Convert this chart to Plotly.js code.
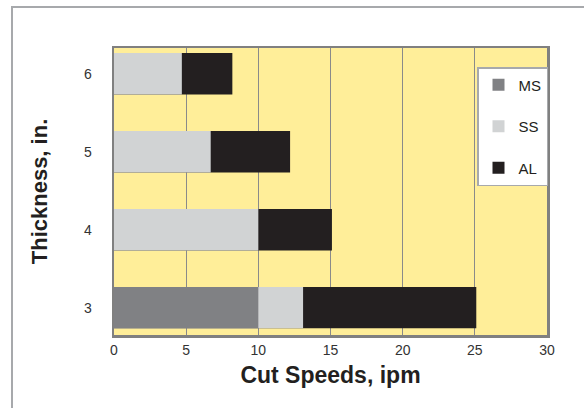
<!DOCTYPE html>
<html>
<head>
<meta charset="utf-8">
<script src="https://cdn.plot.ly/plotly-3.0.1.min.js"></script>
<style>
html,body{margin:0;padding:0;background:#fff;}
#chart{width:584px;height:408px;}
</style>
</head>
<body>
<div id="chart"></div>
<script>
// Data
const thickness = [3, 4, 5, 6];
const seriesNames = ["MS", "SS", "AL"];
const msSpeeds = [10, null, null, null];
const ssSpeeds = [13.1, 10, 6.7, 4.7];
const alSpeeds = [25.1, 15.1, 12.2, 8.2];
const xTicks = [0, 5, 10, 15, 20, 25, 30];
const yTicks = [3, 4, 5, 6];

const colors = {MS: "#808184", SS: "#D1D3D4", AL: "#231F20"};

function barTrace(name, vals, rank) {
  return {
    type: "bar", orientation: "h", name: name,
    x: vals, y: thickness, width: 0.53,
    marker: {color: colors[name], line: {width: 0}},
    legendgroup: "g" + rank, legendrank: rank, hoverinfo: "x+y+name"
  };
}

// drawn back to front: AL behind, MS in front
const traces = [
  barTrace("AL", alSpeeds, 3),
  barTrace("SS", ssSpeeds, 2),
  barTrace("MS", msSpeeds, 1)
];

const fam = "'Liberation Sans', Arial, Helvetica, sans-serif";

const L = 114, R = 547, T = 48, B = 335;
const W = R - L, H = B - T;
const px = v => (v - L) / W;
const py = v => (B - v) / H;

const layout = {
  width: 584, height: 408,
  margin: {l: L, r: 584 - R, t: T, b: 408 - B, pad: 0},
  paper_bgcolor: "#ffffff",
  plot_bgcolor: "#FFEE99",
  barmode: "overlay",
  font: {family: fam, size: 14, color: "#333"},
  showlegend: true,
  legend: {
    x: px(477), y: py(67), xanchor: "left", yanchor: "top",
    bgcolor: "#ffffff", bordercolor: "#A7A9AC", borderwidth: 1.5,
    traceorder: "grouped", tracegroupgap: 19,
    font: {family: fam, size: 15, color: "#231F20"},
    itemwidth: 30
  },
  xaxis: {
    range: [0, 30], tickvals: xTicks, ticktext: xTicks.map(String),
    showgrid: true, gridcolor: "#8A8A8A", gridwidth: 1.2,
    zeroline: false, showline: true, mirror: true,
    linecolor: "#808080", linewidth: 2.5,
    ticks: "", ticklabelstandoff: 1,
    tickfont: {family: fam, size: 14, color: "#333"},
    title: {text: "Cut Speeds, ipm", standoff: 10,
            font: {family: fam, size: 23, weight: "bold", color: "#231F20"}},
    fixedrange: true
  },
  yaxis: {
    range: [2.65, 6.33], tickvals: yTicks, ticktext: yTicks.map(String),
    showgrid: false, zeroline: false, showline: true, mirror: true,
    linecolor: "#808080", linewidth: 2.5,
    ticks: "", ticklabelstandoff: 17,
    tickfont: {family: fam, size: 14, color: "#333"},
    title: {text: "Thickness, in.", standoff: 30,
            font: {family: fam, size: 22, weight: "bold", color: "#231F20"}},
    fixedrange: true
  },
  shapes: [{
    type: "rect", xref: "paper", yref: "paper",
    x0: px(12), x1: px(600), y0: py(430), y1: py(7),
    line: {color: "#A7A9AC", width: 2}, fillcolor: "rgba(0,0,0,0)", layer: "below"
  }]
};

Plotly.newPlot("chart", traces, layout, {staticPlot: true, displayModeBar: false});
</script>
</body>
</html>
